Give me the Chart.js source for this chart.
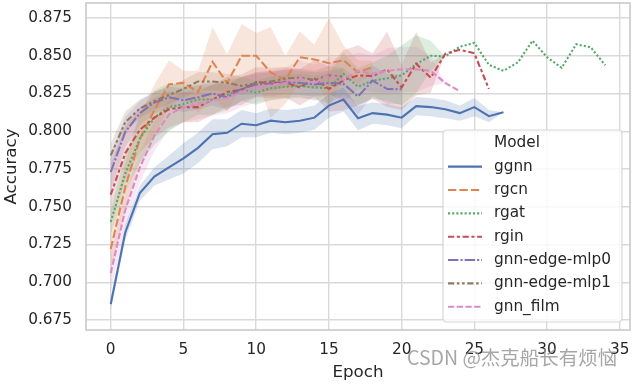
<!DOCTYPE html>
<html>
<head>
<meta charset="utf-8">
<script src="https://cdn.jsdelivr.net/npm/chart.js@4.4.1/dist/chart.umd.min.js"></script>
<style>
  html, body { margin: 0; padding: 0; background: #fff; }
</style>
</head>
<body>
<canvas id="chart" width="633" height="384"></canvas>
<script>
// DATA (mean accuracy per epoch, and half width of the 95% band)
const epochs = [0,1,2,3,4,5,6,7,8,9,10,11,12,13,14,15,16,17,18,19,20,21,22,23,24,25,26,27,28,29,30,31,32,33,34];
const xTicks = [0,5,10,15,20,25,30,35];
const yTicks = [0.675,0.700,0.725,0.750,0.775,0.800,0.825,0.850,0.875];
const models = ["ggnn","rgcn","rgat","rgin","gnn-edge-mlp0","gnn-edge-mlp1","gnn_film"];

const ggnn = [0.6855,0.733,0.759,0.770,0.776,0.782,0.789,0.798,0.799,0.805,0.804,0.807,0.806,0.807,0.809,0.817,0.821,0.8086,0.812,0.811,0.809,0.8166,0.816,0.8146,0.812,0.816,0.810,0.8126];
const ggnnCi = [0.004,0.005,0.005,0.006,0.008,0.010,0.010,0.010,0.009,0.009,0.008,0.008,0.008,0.008,0.008,0.008,0.008,0.008,0.007,0.007,0.007,0.006,0.006,0.006,0.005,0.006,0.004,0];

const rgcn = [0.722,0.763,0.795,0.814,0.831,0.832,0.826,0.846,0.832,0.850,0.850,0.839,0.834,0.849,0.8475,0.845,0.847,0.839,0.8425];
const rgcnCi = [0.015,0.016,0.016,0.017,0.016,0.008,0.014,0.023,0.019,0.021,0.015,0.030,0.016,0.017,0.010,0.030,0.010,0.008,0.004];

const rgat = [0.740,0.772,0.795,0.809,0.816,0.818,0.821,0.821,0.824,0.828,0.8255,0.8285,0.8295,0.830,0.829,0.8285,0.838,0.8295,0.8335,0.835,0.837,0.8445,0.850,0.8495,0.856,0.8585,0.844,0.840,0.8457,0.860,0.849,0.842,0.8576,0.8556,0.8437];
const rgatCi = [0.008,0.012,0.016,0.018,0.016,0.012,0.010,0.010,0.010,0.008,0.008,0.008,0.008,0.008,0.008,0.010,0.014,0.012,0.012,0.015,0.020,0.019,0.010,0,0,0,0,0,0,0,0,0,0,0,0];

const rgin = [0.758,0.7855,0.801,0.809,0.8145,0.816,0.816,0.821,0.826,0.8275,0.8325,0.832,0.8325,0.829,0.835,0.828,0.8337,0.837,0.8365,0.841,0.829,0.8447,0.8355,0.8513,0.854,0.8516,0.828];
const rginCi = [0.020,0.018,0.015,0.013,0.012,0.010,0.010,0.010,0.010,0.010,0.010,0.010,0.010,0.012,0.012,0.015,0.020,0.020,0.015,0.025,0.015,0.021,0.010,0,0,0,0];

const mlp0 = [0.773,0.7995,0.812,0.819,0.8225,0.8205,0.8225,0.825,0.8225,0.828,0.831,0.8315,0.8325,0.832,0.831,0.832,0.8315,0.823,0.8335,0.828,0.8278];
const mlp0Ci = [0.012,0.010,0.008,0.007,0.007,0.008,0.008,0.008,0.008,0.008,0.008,0.008,0.008,0.008,0.008,0.008,0.010,0.012,0.010,0.010,0.010];

const mlp1 = [0.784,0.806,0.815,0.820,0.824,0.828,0.833,0.833,0.832,0.830,0.832,0.833,0.835,0.8355,0.834,0.837,0.836];
const mlp1Ci = [0.008,0.007,0.006,0.006,0.006,0.006,0.006,0.006,0.006,0.006,0.006,0.006,0.006,0.006,0.006,0.006,0.006];

const film = [0.706,0.748,0.776,0.797,0.811,0.816,0.818,0.8205,0.822,0.826,0.829,0.8305,0.832,0.835,0.832,0.837,0.834,0.840,0.838,0.840,0.841,0.841,0.840,0.832,0.8265];
const filmCi = [0.012,0.012,0.010,0.010,0.010,0.010,0.010,0.010,0.010,0.010,0.010,0.010,0.010,0.012,0.012,0.012,0.015,0.012,0.012,0.015,0.015,0.015,0.010,0,0];

// styling (seaborn "deep" palette + dashes)
const means = [ggnn, rgcn, rgat, rgin, mlp0, mlp1, film];
const halfWidths = [ggnnCi, rgcnCi, rgatCi, rginCi, mlp0Ci, mlp1Ci, filmCi];
const colors = ["#4c72b0","#dd8452","#55a868","#c44e52","#8172b3","#937860","#da8bc3"];
const dashes = [[], [4,1.5], [1,1], [3,1.25,1.5,1.25], [5,1,1,1], [3,1.25,1.25,1.25,1.25,1.25], [3,1.2]];
const LW = 2.08;
const FONT = "DejaVu Sans";
const TEXT = "#262626";

function withAlpha(hex, a) {
  const n = parseInt(hex.slice(1), 16);
  return `rgba(${n >> 16},${(n >> 8) & 255},${n & 255},${a})`;
}

const datasets = [];
// confidence bands first (drawn underneath)
models.forEach((m, k) => {
  const lowIdx = datasets.length;
  datasets.push({
    label: m + " low",
    data: means[k].map((v, i) => ({x: epochs[i], y: v - halfWidths[k][i]})),
    borderWidth: 0, borderColor: "transparent", pointRadius: 0, fill: false, order: 100
  });
  datasets.push({
    label: m + " high",
    data: means[k].map((v, i) => ({x: epochs[i], y: v + halfWidths[k][i]})),
    borderWidth: 0, borderColor: "transparent", pointRadius: 0,
    fill: lowIdx, backgroundColor: withAlpha(colors[k], 0.2), order: 100
  });
});
// mean lines, first model at the bottom
models.forEach((m, k) => {
  datasets.push({
    label: m,
    data: means[k].map((v, i) => ({x: epochs[i], y: v})),
    borderColor: colors[k], borderWidth: LW,
    borderDash: dashes[k].map(d => d * LW),
    pointRadius: 0, fill: false, tension: 0, order: 10 - k
  });
});

// spines + legend + watermark
const extras = {
  id: "extras",
  beforeDatasetsDraw(chart) {
    const {ctx, chartArea: a} = chart;
    ctx.save();
    ctx.strokeStyle = "#cccccc";
    ctx.lineWidth = 1.7;
    ctx.strokeRect(a.left, a.top, a.right - a.left, a.bottom - a.top);
    ctx.restore();
  },
  afterDraw(chart) {
    const ctx = chart.ctx;
    ctx.save();
    // legend box
    const bx = 443, by = 130, bw = 179, bh = 192, r = 4;
    ctx.beginPath();
    ctx.roundRect(bx, by, bw, bh, r);
    ctx.fillStyle = "rgba(255,255,255,0.8)";
    ctx.fill();
    ctx.strokeStyle = "rgba(204,204,204,0.8)";
    ctx.lineWidth = 1.2;
    ctx.stroke();

    ctx.font = `15.3px "${FONT}"`;
    ctx.fillStyle = TEXT;
    ctx.textBaseline = "middle";
    ctx.textAlign = "left";
    const tx = 494, y0 = 143.3, step = 23.35;
    ctx.fillText("Model", tx, y0);
    models.forEach((m, k) => {
      const y = y0 + step * (k + 1);
      ctx.beginPath();
      ctx.setLineDash(dashes[k].map(d => d * LW));
      ctx.strokeStyle = colors[k];
      ctx.lineWidth = LW;
      ctx.moveTo(448, y);
      ctx.lineTo(482, y);
      ctx.stroke();
      ctx.setLineDash([]);
      ctx.fillStyle = TEXT;
      ctx.fillText(m, tx, y);
    });

    // watermark
    ctx.font = `19.5px "Noto Sans CJK SC"`;
    ctx.fillStyle = "rgba(150,150,150,0.85)";
    ctx.fillText("CSDN @杰克船长有烦恼", 407, 358);
    ctx.restore();
  }
};

new Chart(document.getElementById("chart"), {
  type: "line",
  data: {datasets},
  plugins: [extras],
  options: {
    responsive: false,
    animation: false,
    devicePixelRatio: 1,
    layout: {padding: {top: 3, right: 3, left: 0, bottom: 0}},
    plugins: {legend: {display: false}, tooltip: {enabled: false}},
    scales: {
      x: {
        type: "linear", min: -1.7, max: 35.7,
        afterBuildTicks: s => { s.ticks = xTicks.map(v => ({value: v})); },
        afterFit: s => { s.height = 54; s.paddingLeft = 0; s.paddingRight = 0; },
        grid: {color: "#d9d9d9", lineWidth: 1.4, drawTicks: false},
        border: {display: false},
        ticks: {padding: 11, color: TEXT, maxRotation: 0, autoSkip: false,
                font: {family: FONT, size: 15.3}, callback: v => String(v)},
        title: {display: true, text: "Epoch", color: TEXT,
                font: {family: FONT, size: 16.7}, padding: {top: 0, bottom: 1}}
      },
      y: {
        type: "linear", min: 0.66838, max: 0.88493,
        afterBuildTicks: s => { s.ticks = yTicks.map(v => ({value: v})); },
        afterFit: s => { s.width = 86; s.paddingTop = 0; s.paddingBottom = 0; },
        grid: {color: "#d9d9d9", lineWidth: 1.4, drawTicks: false},
        border: {display: false},
        ticks: {padding: 14, color: TEXT, autoSkip: false,
                font: {family: FONT, size: 15.3}, callback: v => v.toFixed(3)},
        title: {display: true, text: "Accuracy", color: TEXT,
                font: {family: FONT, size: 16.7}, padding: {top: 2, bottom: 0}}
      }
    }
  }
});
</script>
</body>
</html>
